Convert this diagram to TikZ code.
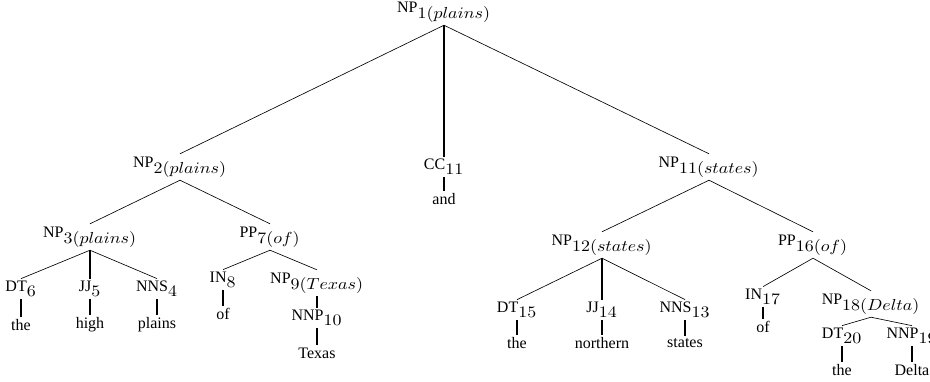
\documentclass[tikz,border=0pt]{standalone}
\usepackage{amsmath,amssymb}
\usepackage{graphicx}
\usepackage{fontspec}
\setmainfont{Liberation Serif}
\usepackage{tikz}
\newcommand{\tg}[2]{#1$_{\scalebox{1.12}[1]{$\textstyle #2$}}$}

\begin{document}
\begin{tikzpicture}[x=0.625pt,y=-0.625pt,
  cat/.style={inner sep=1.5pt},
  word/.style={inner sep=1.5pt},
  head/.style={line width=1.7pt}]
\useasboundingbox (0,0) rectangle (930,381);
% top levels
\node (np1) at (444,12) [cat] {\tg{NP}{1(plains)}};
\node (np2) at (180,167) [cat] {\tg{NP}{2(plains)}};
\node (cc11) at (444,167) [cat] {\tg{CC}{11}};
\node (and) at (444,199) [word] {and};
\node (np11) at (709,167) [cat] {\tg{NP}{11(states)}};
%
\draw (np1.south) edge (np2.north);
\draw [head] (np1.south) edge (cc11.north);
\draw (np1.south) edge (np11.north);
\draw [head] (cc11.south) edge (and.north);
%% left part
\node (np3) at (90,237) [cat] {\tg{NP}{3(plains)}};
\node (pp7) at (270,237) [cat] {\tg{PP}{7(of)}};
\node (dt6) at (21,289) [cat] {\tg{DT}{6}};
\node (jj5) at (90,289) [cat] {\tg{JJ}{5}};
\node (nns4) at (157,289) [cat] {\tg{NNS}{4}};
\node (the6) at (21,325) [word] {the};
\node (high5) at (90,325) [word] {high};
\node (plains4) at (157,325) [word] {plains};
\node (in8) at (223,280) [cat] {\tg{IN}{8}};
\node (of8) at (223,314) [word] {of};
\node (np9) at (317,283) [cat] {\tg{NP}{9(Texas)}};
\node (nnp10) at (317,318) [cat] {\tg{NNP}{10}};
\node (texas10) at (317,353) [word] {Texas};
%
\draw (np2.south) edge (np3.north);
\draw (np2.south) edge (pp7.north);
\draw (np3.south) edge (dt6.north);
\draw [head] (np3.south) edge (jj5.north);
\draw (np3.south) edge (nns4.north);
\draw [head] (dt6.south) edge (the6.north);
\draw [head] (jj5.south) edge (high5.north);
\draw [head] (nns4.south) edge (plains4.north);
\draw (pp7.south) edge (in8.north);
\draw (pp7.south) edge (np9.north);
\draw [head] (in8.south) edge (of8.north);
\draw [head] (np9.south) edge (nnp10.north);
\draw [head] (nnp10.south) edge (texas10.north);
%% right part
\node (np12) at (602,245) [cat] {\tg{NP}{12(states)}};
\node (pp16) at (813,245) [cat] {\tg{PP}{16(of)}};
\node (dt15) at (517,310) [cat] {\tg{DT}{15}};
\node (jj14) at (602,310) [cat] {\tg{JJ}{14}};
\node (nns13) at (685,310) [cat] {\tg{NNS}{13}};
\node (the15) at (517,343) [word] {the};
\node (northern14) at (602,343) [word] {northern};
\node (states13) at (685,343) [word] {states};
\node (in17) at (763,297) [cat] {\tg{IN}{17}};
\node (of17) at (763,327) [word] {of};
\node (np18) at (871,304) [cat] {\tg{NP}{18(Delta)}};
\node (dt20) at (842,336) [cat] {\tg{DT}{20}};
\node (nnp19) at (912,336) [cat] {\tg{NNP}{19}};
\node (the20) at (842,370) [word] {the};
\node (delta19) at (912,370) [word] {Delta};
%
\draw (np11.south) edge (np12.north);
\draw (np11.south) edge (pp16.north);
\draw (np12.south) edge (dt15.north);
\draw [head] (np12.south) edge (jj14.north);
\draw (np12.south) edge (nns13.north);
\draw [head] (dt15.south) edge (the15.north);
\draw [head] (jj14.south) edge (northern14.north);
\draw [head] (nns13.south) edge (states13.north);
\draw (pp16.south) edge (in17.north);
\draw (pp16.south) edge (np18.north);
\draw [head] (in17.south) edge (of17.north);
\draw (np18.south) edge (dt20.north);
\draw (np18.south) edge (nnp19.north);
\draw [head] (dt20.south) edge (the20.north);
\draw [head] (nnp19.south) edge (delta19.north);
\end{tikzpicture}
\end{document}
